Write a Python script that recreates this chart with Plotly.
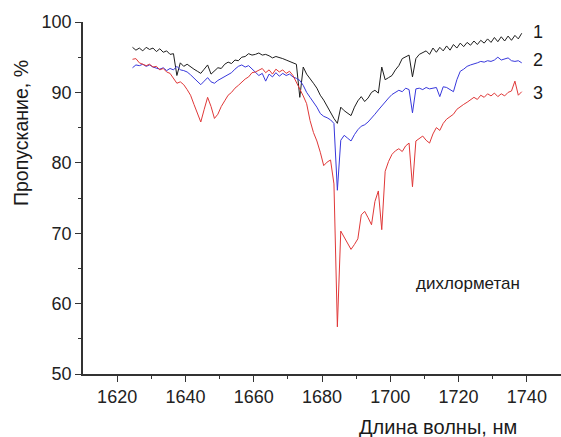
import plotly.graph_objects as go

wavelength = [1624.5 + i for i in range(115)]

curve1 = [96.4, 96.0, 96.3, 95.9, 96.4, 96.1, 96.3, 95.8, 96.2, 95.7,
          95.9, 95.4, 95.5, 92.4, 94.2, 93.7, 94.0, 93.6, 93.3, 93.0,
          92.7, 93.3, 93.9, 92.6, 93.1, 93.5, 93.4, 94.0, 94.3, 94.1,
          94.6, 94.5, 95.0, 95.1, 95.5, 95.3, 95.4, 95.6, 95.3, 95.4,
          95.2, 94.9, 95.1, 95.0, 94.8, 94.6, 94.4, 94.3, 94.0, 89.3,
          93.6, 92.6, 92.0, 91.3, 90.6, 89.6, 88.9, 88.0, 87.2, 86.3,
          85.6, 87.9, 87.4, 87.0, 86.7, 87.9, 88.8, 89.4, 88.7, 89.2,
          90.0, 90.3, 89.9, 93.6, 91.8, 92.1, 92.4, 93.2, 93.8, 94.8,
          95.1, 95.3, 92.2, 94.8, 95.4, 95.6, 95.9, 95.4, 96.3, 95.7,
          96.4, 95.9, 96.6, 96.0, 96.8, 96.3, 97.0, 96.5, 97.1, 96.7,
          97.3, 96.8, 97.4, 97.0, 97.6, 97.1, 97.8, 97.2, 97.9, 97.3,
          98.0, 97.4, 98.1, 97.6, 98.4]

curve2 = [93.5, 93.9, 93.8, 94.0, 93.7, 93.9, 93.6, 93.5, 93.3, 93.5,
          93.1, 93.4, 93.2, 93.7, 93.2, 93.1, 92.9, 92.5, 92.0, 91.5,
          91.1, 91.6, 92.1, 91.5, 91.3, 91.7, 92.0, 92.2, 92.6, 92.8,
          93.3, 93.7, 93.9, 93.6, 93.8, 93.3, 92.9, 92.4, 92.7, 91.6,
          92.6, 92.2, 92.8, 92.3, 92.7, 92.4, 92.6, 92.2, 92.0, 91.7,
          91.0, 90.0, 89.3, 88.6, 87.9, 87.0, 86.6, 86.4, 86.1, 85.6,
          76.1, 83.2, 83.9, 83.5, 83.1, 84.0, 84.7, 85.2, 85.4, 85.8,
          86.3, 86.9, 87.5, 88.1, 88.7, 89.2, 89.7, 90.0, 90.3, 90.1,
          90.6, 90.4, 87.1, 90.5, 90.6, 90.4, 90.7, 90.5, 90.6, 90.7,
          89.4, 90.8, 90.7, 90.4, 90.1, 91.8, 93.0, 93.3, 93.7, 93.9,
          94.0, 94.2, 94.4, 94.3, 94.5, 94.4, 94.6, 95.0, 94.6, 94.7,
          94.9, 94.5, 94.4, 94.5, 94.2]

curve3 = [94.7, 94.8, 94.2, 94.0, 93.8, 94.0, 93.6, 93.7, 93.2, 93.4,
          92.9, 92.7, 92.0, 91.3, 91.5, 91.1, 90.4, 89.6, 88.3, 87.1,
          85.8, 87.6, 89.3, 88.0, 86.3, 86.9, 88.0, 88.8, 89.6, 90.0,
          90.6, 91.0, 91.5, 91.9, 92.2, 92.8, 92.9, 93.1, 93.4, 92.8,
          93.2, 92.6, 93.3, 92.9, 93.2, 92.7, 93.0, 92.4, 91.5, 90.6,
          89.5, 88.4, 86.0, 84.3, 83.1, 81.5, 79.6, 80.1, 80.4, 77.0,
          56.7, 70.3, 69.5, 68.5, 67.7, 68.4, 69.2, 72.6, 73.1, 72.2,
          71.2, 74.5, 76.0, 70.5, 78.8, 80.2, 81.2, 81.7, 82.0, 81.6,
          82.4, 82.8, 76.6, 83.1, 83.4, 83.8, 83.2, 82.8, 84.1, 85.0,
          84.6, 85.6, 86.2, 86.5, 86.9, 87.6, 88.0, 88.3, 88.6, 88.9,
          89.3, 89.0, 89.6, 89.3, 89.8, 89.5, 89.9, 89.4, 89.8, 89.5,
          90.0, 90.2, 91.6, 89.6, 90.1]

series_names = ["1", "2", "3"]
series_colors = ["#1e1e1e", "#3838dc", "#e03838"]
x_ticks = [1620, 1640, 1660, 1680, 1700, 1720, 1740]
y_ticks = [50, 60, 70, 80, 90, 100]

W, H = 561, 437
L, R, T, B = 83, 0, 22, 63
pw, ph = W - L - R, H - T - B

fig = go.Figure()
for name, ys, col in zip(series_names, [curve1, curve2, curve3], series_colors):
    fig.add_trace(go.Scatter(x=wavelength, y=ys, mode="lines", name=name,
                             line=dict(color=col, width=1), showlegend=False))

label_y = [98.6, 94.6, 89.9]
for name, ly in zip(series_names, label_y):
    fig.add_annotation(x=1743.2, y=ly, text=name, showarrow=False,
                       xanchor="center", yanchor="middle",
                       font=dict(size=18, color="#1a1a1a"))

fig.add_annotation(x=1722.8, y=62.9, text="дихлорметан", showarrow=False,
                   xanchor="center", yanchor="middle",
                   font=dict(size=17, color="#1a1a1a"))

fig.add_annotation(x=(438 - L) / pw, y=(H - B - 427) / ph, xref="paper", yref="paper",
                   xanchor="center", yanchor="middle",
                   text="Длина волны, нм", showarrow=False,
                   font=dict(size=20, color="#1a1a1a"))
fig.add_annotation(x=(21 - L) / pw, y=(H - B - 133) / ph, xref="paper", yref="paper",
                   xanchor="center", yanchor="middle",
                   text="Пропускание, %", textangle=-90, showarrow=False,
                   font=dict(size=19.5, color="#1a1a1a"))

axis_font = dict(family="Liberation Sans, Arial, sans-serif", size=18, color="#222222")

fig.update_layout(
    width=W, height=H,
    margin=dict(l=L, r=R, t=T, b=B),
    paper_bgcolor="white", plot_bgcolor="white",
    font=dict(family="Liberation Sans, Arial, sans-serif", color="#1a1a1a"),
    xaxis=dict(range=[1610, 1750], tickvals=x_ticks, ticks="outside", ticklen=6,
               tickwidth=1.3, tickcolor="#333", showline=True, linecolor="#333",
               linewidth=1.5, showgrid=False, zeroline=False, tickfont=axis_font,
               minor=dict(tickvals=[1630, 1650, 1670, 1690, 1710, 1730, 1750],
                          ticks="outside", ticklen=3, tickcolor="#333", tickwidth=1.3)),
    yaxis=dict(range=[50, 100], tickvals=y_ticks, ticks="outside", ticklen=6,
               tickwidth=1.3, tickcolor="#333", showline=True, linecolor="#333",
               linewidth=1.5, showgrid=False, zeroline=False, tickfont=axis_font,
               minor=dict(tickvals=[55, 65, 75, 85, 95],
                          ticks="outside", ticklen=3, tickcolor="#333", tickwidth=1.3)),
)

fig.write_html("out.html")
